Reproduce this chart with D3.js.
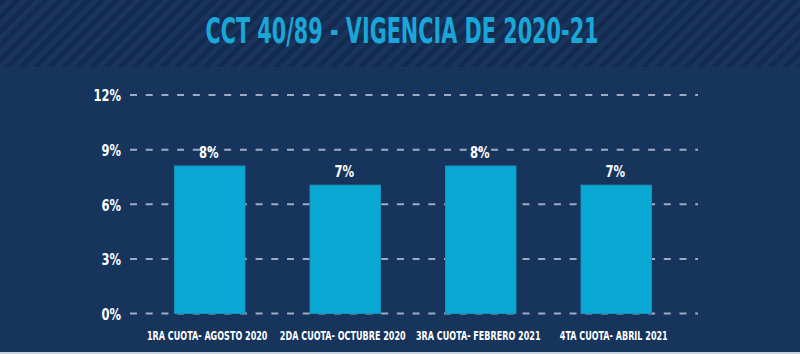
<!DOCTYPE html>
<html>
<head>
<meta charset="utf-8">
<script src="https://cdn.jsdelivr.net/npm/d3@7"></script>
<style>
  body { margin: 0; background: #16345c; }
  svg { display: block; }
</style>
</head>
<body>
<svg id="chart"></svg>
<script>
// data
const cuotas = ['1RA CUOTA- AGOSTO 2020', '2DA CUOTA- OCTUBRE 2020', '3RA CUOTA- FEBRERO 2021', '4TA CUOTA- ABRIL 2021']
const porcentajes = [8.1, 7.05, 8.1, 7.05]
const yTicks = [0, 3, 6, 9, 12]
const titulo = 'CCT 40/89 - VIGENCIA DE 2020-21'

const W = 800, H = 354
const condensed = '"DejaVu Sans Condensed", "DejaVu Sans", sans-serif'

const svg = d3.select('#chart').attr('width', W).attr('height', H)

// striped header band
const defs = svg.append('defs')
const pat = defs.append('pattern')
    .attr('id', 'stripes')
    .attr('patternUnits', 'userSpaceOnUse')
    .attr('width', 10).attr('height', 10)
    .attr('patternTransform', 'rotate(45)')
pat.append('rect').attr('width', 10).attr('height', 10).attr('fill', '#19345e')
pat.append('rect').attr('width', 5).attr('height', 10).attr('fill', '#142b50')

svg.append('rect').attr('width', W).attr('height', H).attr('fill', '#16345c')
svg.append('rect').attr('width', W).attr('height', 67).attr('fill', 'url(#stripes)')
svg.append('rect').attr('y', H - 2).attr('width', W).attr('height', 2).attr('fill', '#c9d2de')

// title, squeezed sideways since the original is a narrow display face
svg.append('g')
    .attr('transform', 'translate(402,43) scale(0.66,1)')
  .append('text')
    .attr('text-anchor', 'middle')
    .attr('font-family', condensed)
    .attr('font-weight', 'bold')
    .attr('font-size', 35)
    .attr('fill', '#1ba6d8')
    .text(titulo)

// scales
const x = d3.scaleBand()
    .domain(cuotas)
    .range([142, 684])
    .paddingInner(0.48)
    .paddingOuter(0.24)

const y = d3.scaleLinear()
    .domain([0, 12])
    .range([313.5, 95])

// gridlines (dashed)
svg.append('g')
    .selectAll('line')
    .data(yTicks)
    .join('line')
        .attr('x1', 130).attr('x2', 698)
        .attr('y1', d => y(d)).attr('y2', d => y(d))
        .attr('stroke', '#9eabc2')
        .attr('stroke-width', 2)
        .attr('stroke-dasharray', '7 8.7')

// y axis labels
const yAxis = d3.axisLeft(y)
    .tickValues(yTicks)
    .tickFormat(d => d + '%')
    .tickSize(0)
    .tickPadding(0)
const yG = svg.append('g')
    .attr('transform', 'translate(121,0)')
    .call(yAxis)
yG.select('.domain').remove()
yG.selectAll('text')
    .attr('fill', '#ffffff')
    .attr('font-family', condensed)
    .attr('font-weight', 'bold')
    .attr('font-size', 16)
    .attr('dy', '0.36em')
    .attr('transform', 'scale(0.8,1)')

// bars
svg.append('g')
    .selectAll('rect')
    .data(cuotas)
    .join('rect')
        .attr('x', d => x(d))
        .attr('y', (d, i) => y(porcentajes[i]))
        .attr('width', x.bandwidth())
        .attr('height', (d, i) => y(0) - y(porcentajes[i]))
        .attr('fill', '#0aa9d4')
        .attr('stroke', '#1a92bd')
        .attr('stroke-width', 1)

// value labels
svg.append('g')
    .selectAll('g')
    .data(cuotas)
    .join('g')
        .attr('transform', (d, i) => `translate(${x(d) + x.bandwidth() / 2 - 1},${y(porcentajes[i]) - 8}) scale(0.78,1)`)
    .append('text')
        .attr('text-anchor', 'middle')
        .attr('font-family', condensed)
        .attr('font-weight', 'bold')
        .attr('font-size', 16.5)
        .attr('fill', '#ffffff')
        .text((d, i) => Math.round(porcentajes[i]) + '%')

// x axis labels
const xAxis = d3.axisBottom(x).tickSize(0).tickPadding(0)
const xG = svg.append('g')
    .attr('transform', 'translate(-2.5,331)')
    .call(xAxis)
xG.select('.domain').remove()
xG.selectAll('text')
    .attr('fill', '#ffffff')
    .attr('font-family', condensed)
    .attr('font-weight', 'bold')
    .attr('font-size', 13)
    .attr('dy', '0.71em')
    .attr('transform', 'scale(0.69,1)')
</script>
</body>
</html>
